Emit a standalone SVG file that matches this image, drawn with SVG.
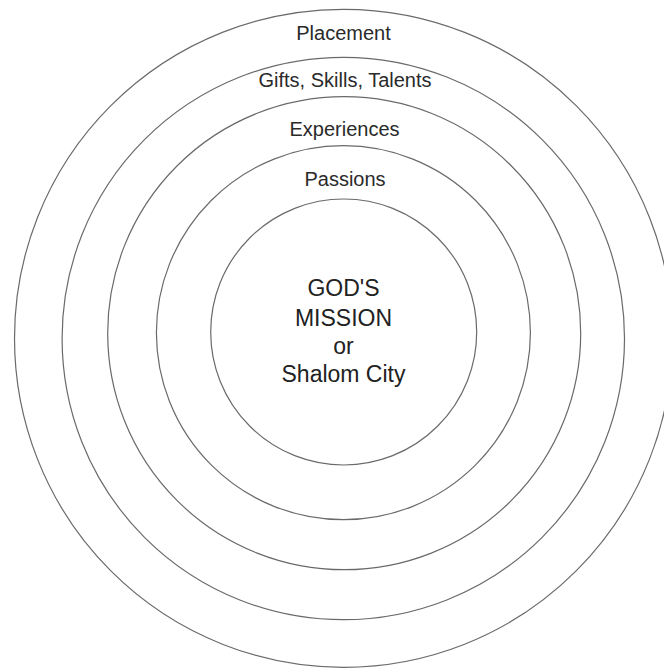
<svg xmlns="http://www.w3.org/2000/svg" width="664" height="668" viewBox="0 0 664 668">
<style>
.ring{fill:none;stroke:#6a6a6a;stroke-width:1.2}
.lbl{font-family:"Liberation Sans",Arial,sans-serif;font-size:20px;fill:#2a2a2a;text-anchor:middle}
.ctr{font-family:"Liberation Sans",Arial,sans-serif;font-size:23px;fill:#222;text-anchor:middle}
</style>
<rect width="664" height="668" fill="#fff"/>
<g id="placement">
<circle class="ring" cx="343.5" cy="338.3" r="329"/>
<text class="lbl" x="343.5" y="40">Placement</text>
</g>
<g id="gifts">
<circle class="ring" cx="343.3" cy="338.5" r="281.2"/>
<text class="lbl" x="345" y="87.3">Gifts, Skills, Talents</text>
</g>
<g id="experiences">
<circle class="ring" cx="344.2" cy="333.2" r="236.5"/>
<text class="lbl" x="344.5" y="136">Experiences</text>
</g>
<g id="passions">
<circle class="ring" cx="343.4" cy="332.7" r="187"/>
<text class="lbl" x="345" y="185.7">Passions</text>
</g>
<g id="gods-mission">
<circle class="ring" cx="343.7" cy="332" r="133"/>
<text class="ctr" x="343.5"><tspan x="343.5" y="296">GOD'S</tspan><tspan x="343.5" y="325.7">MISSION</tspan><tspan x="343.5" y="354">or</tspan><tspan x="343.5" y="382.3">Shalom City</tspan></text>
</g>
</svg>
